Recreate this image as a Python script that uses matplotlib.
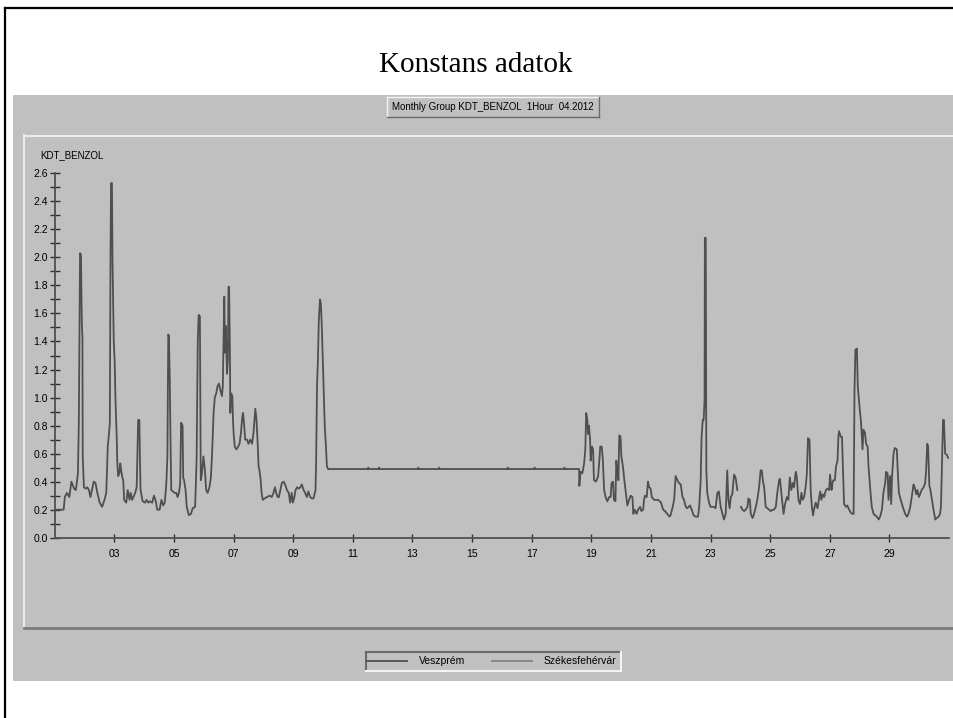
"""
KDT_BENZOL monthly group, 1 hour averages, 04.2012 (Veszprém) - "Konstans adatok" slide.
"""
import numpy as np
import matplotlib.pyplot as plt
from matplotlib.patches import Rectangle
from matplotlib.lines import Line2D

# ---- data -----------------------------------------------------------------
# day of month (1.0 = start of 1 April) and benzene value for Veszprém
days = [
    1.00, 1.30, 1.34, 1.41, 1.49, 1.56, 1.65, 1.71, 1.74, 1.78,
    1.81, 1.83, 1.85, 1.88, 1.91, 1.93, 1.94, 1.98, 2.04, 2.09,
    2.15, 2.20, 2.26, 2.31, 2.37, 2.43, 2.51, 2.59, 2.67, 2.73,
    2.78, 2.82, 2.85, 2.87, 2.89, 2.92, 2.94, 2.98, 3.01, 3.04,
    3.08, 3.10, 3.13, 3.17, 3.20, 3.23, 3.27, 3.30, 3.33, 3.40,
    3.45, 3.51, 3.55, 3.60, 3.64, 3.70, 3.75, 3.80, 3.84, 3.86,
    3.88, 3.95, 4.03, 4.08, 4.14, 4.19, 4.27, 4.33, 4.39, 4.44,
    4.52, 4.58, 4.64, 4.69, 4.72, 4.75, 4.78, 4.81, 4.83, 4.86,
    4.88, 4.91, 4.97, 5.02, 5.08, 5.12, 5.17, 5.21, 5.24, 5.29,
    5.31, 5.34, 5.39, 5.43, 5.50, 5.57, 5.63, 5.71, 5.76, 5.80,
    5.83, 5.87, 5.90, 5.94, 5.99, 6.04, 6.08, 6.13, 6.19, 6.24,
    6.28, 6.33, 6.37, 6.42, 6.46, 6.51, 6.55, 6.61, 6.64, 6.66,
    6.69, 6.71, 6.74, 6.78, 6.81, 6.83, 6.85, 6.88, 6.89, 6.92,
    6.96, 6.98, 7.00, 7.04, 7.09, 7.13, 7.20, 7.25, 7.29, 7.32,
    7.36, 7.39, 7.45, 7.50, 7.56, 7.62, 7.67, 7.73, 7.77, 7.81,
    7.84, 7.87, 7.91, 7.94, 7.98, 8.04, 8.12, 8.21, 8.28, 8.34,
    8.39, 8.43, 8.48, 8.52, 8.57, 8.62, 8.68, 8.73, 8.79, 8.85,
    8.90, 8.95, 8.99, 9.04, 9.08, 9.13, 9.18, 9.24, 9.29, 9.35,
    9.40, 9.46, 9.51, 9.57, 9.63, 9.68, 9.75, 9.77, 9.80, 9.83,
    9.86, 9.90, 9.93, 9.96, 10.00, 10.03, 10.06, 10.10, 10.13, 10.17,
    # constant section
    11.50, 11.52, 11.54, 11.86, 11.88, 11.90, 13.18, 13.20, 13.22, 13.88,
    13.90, 13.92, 16.18, 16.20, 16.22, 17.08, 17.10, 17.12, 18.08, 18.10,
    18.12, 18.59,
    18.60, 18.64, 18.70, 18.76, 18.80, 18.83, 18.87, 18.89, 18.92, 18.96,
    18.98, 19.02, 19.06, 19.09, 19.16, 19.23, 19.27, 19.30, 19.35, 19.39,
    19.43, 19.48, 19.54, 19.60, 19.65, 19.68, 19.73, 19.76, 19.81, 19.84,
    19.87, 19.91, 19.94, 19.98, 20.01, 20.06, 20.12, 20.17, 20.21, 20.27,
    20.32, 20.38, 20.41, 20.46, 20.52, 20.57, 20.64, 20.68, 20.74, 20.77,
    20.80, 20.86, 20.90, 20.94, 20.99, 21.03, 21.11, 21.18, 21.24, 21.30,
    21.34, 21.41, 21.47, 21.55, 21.62, 21.66, 21.72, 21.78, 21.83, 21.89,
    21.94, 22.00, 22.06, 22.11, 22.17, 22.22, 22.31, 22.37, 22.43, 22.50,
    22.58, 22.62, 22.67, 22.70, 22.74, 22.77, 22.80, 22.81, 22.84, 22.86,
    22.89, 22.95, 23.00, 23.12, 23.17, 23.23, 23.28, 23.34, 23.40, 23.45,
    23.51, 23.56, 23.60, 23.64, 23.68, 23.73, 23.79, 23.84, 23.90, 23.96,
    24.02, 24.07, 24.13, 24.18, 24.24, 24.27, 24.32, 24.35, 24.41, 24.46,
    24.52, 24.57, 24.63, 24.68, 24.72, 24.76, 24.80, 24.85, 24.91, 24.96,
    25.02, 25.08, 25.13, 25.19, 25.24, 25.30, 25.33, 25.39, 25.45, 25.50,
    25.56, 25.61, 25.66, 25.71, 25.76, 25.80, 25.86, 25.89, 25.95, 26.00,
    26.05, 26.09, 26.14, 26.19, 26.23, 26.27, 26.32, 26.36, 26.40, 26.44,
    26.47, 26.53, 26.59, 26.64, 26.68, 26.72, 26.76, 26.81, 26.87, 26.92,
    26.98, 27.01, 27.06, 27.09, 27.12, 27.17, 27.21, 27.26, 27.29, 27.31,
    27.37, 27.41, 27.45, 27.48, 27.54, 27.59, 27.65, 27.70, 27.76, 27.80,
    27.83, 27.86, 27.91, 27.94, 28.00, 28.05, 28.10, 28.13, 28.18, 28.22,
    28.27, 28.30, 28.36, 28.41, 28.47, 28.52, 28.58, 28.64, 28.69, 28.75,
    28.80, 28.86, 28.89, 28.94, 28.97, 29.02, 29.06, 29.09, 29.14, 29.18,
    29.25, 29.28, 29.32, 29.38, 29.45, 29.53, 29.59, 29.64, 29.70, 29.75,
    29.81, 29.85, 29.90, 29.94, 29.99, 30.03, 30.08, 30.15, 30.20, 30.23,
    30.27, 30.30, 30.34, 30.37, 30.43, 30.48, 30.54, 30.59, 30.65, 30.70,
    30.73, 30.77, 30.80, 30.83, 30.87, 30.93, 30.97,
]
veszprem = [
    0.20, 0.20, 0.29, 0.32, 0.29, 0.40, 0.35, 0.34, 0.39, 0.46,
    0.83, 1.43, 2.03, 2.02, 1.53, 1.43, 0.58, 0.36, 0.35, 0.36,
    0.34, 0.29, 0.35, 0.40, 0.39, 0.32, 0.25, 0.22, 0.27, 0.32,
    0.65, 0.74, 0.82, 1.93, 2.53, 2.53, 1.96, 1.41, 1.27, 0.98,
    0.72, 0.53, 0.44, 0.46, 0.53, 0.48, 0.43, 0.41, 0.27, 0.25,
    0.34, 0.27, 0.32, 0.27, 0.29, 0.32, 0.36, 0.84, 0.84, 0.55,
    0.34, 0.26, 0.25, 0.27, 0.25, 0.26, 0.25, 0.30, 0.26, 0.20,
    0.20, 0.27, 0.23, 0.25, 0.32, 0.41, 0.58, 1.45, 1.44, 1.13,
    0.77, 0.34, 0.33, 0.32, 0.32, 0.29, 0.32, 0.39, 0.82, 0.80,
    0.43, 0.41, 0.34, 0.22, 0.16, 0.17, 0.21, 0.22, 0.55, 1.41,
    1.59, 1.58, 0.41, 0.46, 0.58, 0.48, 0.34, 0.32, 0.36, 0.43,
    0.60, 0.89, 1.00, 1.03, 1.08, 1.10, 1.06, 1.01, 1.08, 1.36,
    1.72, 1.32, 1.51, 1.17, 1.27, 1.79, 1.79, 1.27, 0.89, 1.03,
    1.01, 0.84, 0.75, 0.65, 0.63, 0.64, 0.67, 0.75, 0.86, 0.89,
    0.79, 0.70, 0.70, 0.67, 0.70, 0.67, 0.75, 0.92, 0.84, 0.67,
    0.51, 0.48, 0.41, 0.32, 0.27, 0.28, 0.29, 0.30, 0.29, 0.32,
    0.36, 0.32, 0.29, 0.29, 0.34, 0.39, 0.40, 0.38, 0.34, 0.32,
    0.25, 0.32, 0.25, 0.29, 0.34, 0.36, 0.35, 0.36, 0.38, 0.34,
    0.32, 0.29, 0.33, 0.29, 0.28, 0.28, 0.34, 0.55, 1.08, 1.27,
    1.55, 1.70, 1.67, 1.51, 1.22, 1.00, 0.79, 0.65, 0.51, 0.49,
    # constant section
    0.49, 0.50, 0.49, 0.49, 0.50, 0.49, 0.49, 0.50, 0.49, 0.49,
    0.50, 0.49, 0.49, 0.50, 0.49, 0.49, 0.50, 0.49, 0.49, 0.50,
    0.49, 0.49,
    0.37, 0.47, 0.46, 0.53, 0.63, 0.89, 0.84, 0.74, 0.80, 0.70,
    0.55, 0.65, 0.63, 0.41, 0.40, 0.44, 0.55, 0.65, 0.65, 0.55,
    0.34, 0.29, 0.26, 0.29, 0.29, 0.39, 0.40, 0.27, 0.26, 0.55,
    0.48, 0.41, 0.73, 0.72, 0.58, 0.51, 0.39, 0.30, 0.23, 0.27,
    0.30, 0.29, 0.17, 0.20, 0.17, 0.20, 0.22, 0.19, 0.20, 0.27,
    0.30, 0.29, 0.40, 0.36, 0.35, 0.29, 0.27, 0.27, 0.27, 0.26,
    0.25, 0.20, 0.19, 0.17, 0.15, 0.16, 0.21, 0.27, 0.44, 0.41,
    0.39, 0.38, 0.29, 0.27, 0.22, 0.21, 0.23, 0.20, 0.16, 0.15,
    0.15, 0.22, 0.41, 0.72, 0.84, 0.84, 0.98, 2.14, 2.14, 0.48,
    0.32, 0.25, 0.22, 0.22, 0.21, 0.32, 0.33, 0.22, 0.17, 0.13,
    0.17, 0.48, 0.27, 0.21, 0.29, 0.31, 0.45, 0.43, 0.34, np.nan,
    0.22, 0.20, 0.19, 0.20, 0.22, 0.28, 0.27, 0.17, 0.14, 0.17,
    0.22, 0.27, 0.36, 0.48, 0.48, 0.40, 0.36, 0.22, 0.21, 0.20,
    0.19, 0.20, 0.20, 0.22, 0.32, 0.41, 0.42, 0.29, 0.17, 0.24,
    0.29, 0.27, 0.43, 0.34, 0.39, 0.36, 0.47, 0.44, 0.27, 0.24,
    0.32, 0.27, 0.29, 0.36, 0.45, 0.71, 0.70, 0.34, 0.22, 0.16,
    0.20, 0.25, 0.21, 0.28, 0.33, 0.27, 0.31, 0.29, 0.34, 0.35,
    0.34, 0.45, 0.34, 0.39, 0.41, 0.41, 0.51, 0.55, 0.72, 0.76,
    0.72, 0.72, 0.44, 0.24, 0.22, 0.23, 0.20, 0.18, 0.17, 0.17,
    1.05, 1.34, 1.35, 1.08, 0.93, 0.82, 0.63, 0.77, 0.75, 0.67,
    0.65, 0.51, 0.34, 0.22, 0.17, 0.16, 0.15, 0.13, 0.15, 0.20,
    0.32, 0.39, 0.47, 0.46, 0.27, 0.44, 0.24, 0.44, 0.60, 0.64,
    0.63, 0.48, 0.32, 0.27, 0.22, 0.17, 0.15, 0.17, 0.22, 0.29,
    0.38, 0.36, 0.31, 0.34, 0.29, 0.31, 0.34, 0.36, 0.39, 0.47,
    0.67, 0.65, 0.37, 0.35, 0.27, 0.20, 0.13, 0.14, 0.15, 0.17,
    0.22, 0.58, 0.84, 0.84, 0.60, 0.59, 0.57,
]
# second station has no data for the month, it only appears in the legend
szekesfehervar_days = []
szekesfehervar = []

series_names = ["Veszprém", "Székesfehérvár"]
xtick_days = [3, 5, 7, 9, 11, 13, 15, 17, 19, 21, 23, 25, 27, 29]
ytick_vals = [0.0, 0.2, 0.4, 0.6, 0.8, 1.0, 1.2, 1.4, 1.6, 1.8, 2.0, 2.2, 2.4, 2.6]

# ---- layout helpers (pixel coords, origin top-left) ------------------------
W, H = 954, 718
PANEL = "#c0c0c0"
UI_FONT = "Liberation Sans"

fig = plt.figure(figsize=(W / 100, H / 100), dpi=100)
fig.patch.set_facecolor("white")


def fx(px):
    return px / W


def fy(py):
    return 1 - py / H


def prect(x0, y0, x1, y1, **kw):
    fig.add_artist(Rectangle((fx(x0), fy(y1)), (x1 - x0) / W, (y1 - y0) / H,
                             transform=fig.transFigure, zorder=-2, **kw))


def pline(x0, y0, x1, y1, **kw):
    fig.add_artist(Line2D([fx(x0), fx(x1)], [fy(y0), fy(y1)],
                          transform=fig.transFigure, zorder=-1, **kw))


def bevel(x0, y0, x1, y1, light, dark, lw=1.0):
    pline(x0, y0, x1, y0, color=light, lw=lw)
    pline(x0, y0, x0, y1, color=light, lw=lw)
    pline(x0, y1, x1, y1, color=dark, lw=lw)
    pline(x1, y0, x1, y1, color=dark, lw=lw)


# slide frame + title
pline(5.5, 8, 5.5, H, color="black", lw=1.6)
pline(5, 8, W, 8, color="black", lw=1.6)
fig.text(fx(476), fy(65), "Konstans adatok", family="Liberation Serif",
         fontsize=21, ha="center", va="center", color="black")

# grey chart window
prect(13, 95, W, 681, facecolor=PANEL, edgecolor="none")
# header button
prect(387, 97, 599, 117, facecolor=PANEL, edgecolor="none")
bevel(387, 97, 599, 117, "#f4f4f4", "#6a6a6a")
fig.text(fx(493), fy(107.5), "Monthly Group KDT_BENZOL  1Hour  04.2012",
         family=UI_FONT, fontsize=7, ha="center", va="center")
# inner plot panel
pline(24, 135.5, W, 135.5, color="#ececec", lw=1.5)
pline(24.5, 135, 24.5, 628, color="#ececec", lw=1.5)
pline(24, 628, W, 628, color="#7a7a7a", lw=2.0)

fig.text(fx(40), fy(155), "KDT_BENZOL", family=UI_FONT, fontsize=7,
         ha="left", va="center")

# ---- axes ------------------------------------------------------------------
x0_px, x1_px, y0_px, y1_px = 54.7, 949.0, 537.7, 173.3
ax = fig.add_axes([fx(x0_px), fy(y0_px), (x1_px - x0_px) / W, (y0_px - y1_px) / H])
ax.set_zorder(3)
ax.patch.set_visible(False)
ax.set_xlim(1, 31)
ax.set_ylim(0, 2.6)

line_v, = ax.plot(days, veszprem, color="#4f4f4f", lw=1.3, label=series_names[0])
line_s, = ax.plot(szekesfehervar_days, szekesfehervar, color="#858585", lw=1.3,
                  label=series_names[1])

for side in ("top", "right"):
    ax.spines[side].set_visible(False)
for side in ("left", "bottom"):
    ax.spines[side].set_color("#505050")
    ax.spines[side].set_linewidth(1.3)

ax.set_yticks(ytick_vals)
ax.set_yticklabels([f"{v:.1f}" for v in ytick_vals])
ax.set_yticks(np.arange(0.1, 2.6, 0.2), minor=True)
ax.set_xticks(xtick_days)
ax.set_xticklabels([f"{d:02d}" for d in xtick_days])
ax.tick_params(axis="y", which="both", direction="inout", length=7, width=1,
               color="#303030", pad=1.5, labelsize=7.5)
ax.tick_params(axis="x", direction="inout", length=6, width=1,
               color="#303030", pad=5, labelsize=7.5)
for lab in ax.get_xticklabels() + ax.get_yticklabels():
    lab.set_family(UI_FONT)

# ---- legend (sunken box) ---------------------------------------------------
prect(366, 652, 621, 671, facecolor=PANEL, edgecolor="none")
bevel(366, 652, 621, 671, "#6a6a6a", "#f4f4f4", lw=1.5)
leg = fig.legend(handles=[line_v, line_s], loc="center",
                 bbox_to_anchor=(fx(492), fy(661.5)), ncol=2, frameon=False,
                 prop={"family": UI_FONT, "size": 7.5}, handlelength=3.8,
                 handletextpad=1.15, columnspacing=2.6, borderpad=0.2,
                 borderaxespad=0)
leg.set_zorder(5)

fig.savefig("out.png", dpi=100, facecolor="white")
plt.close(fig)
